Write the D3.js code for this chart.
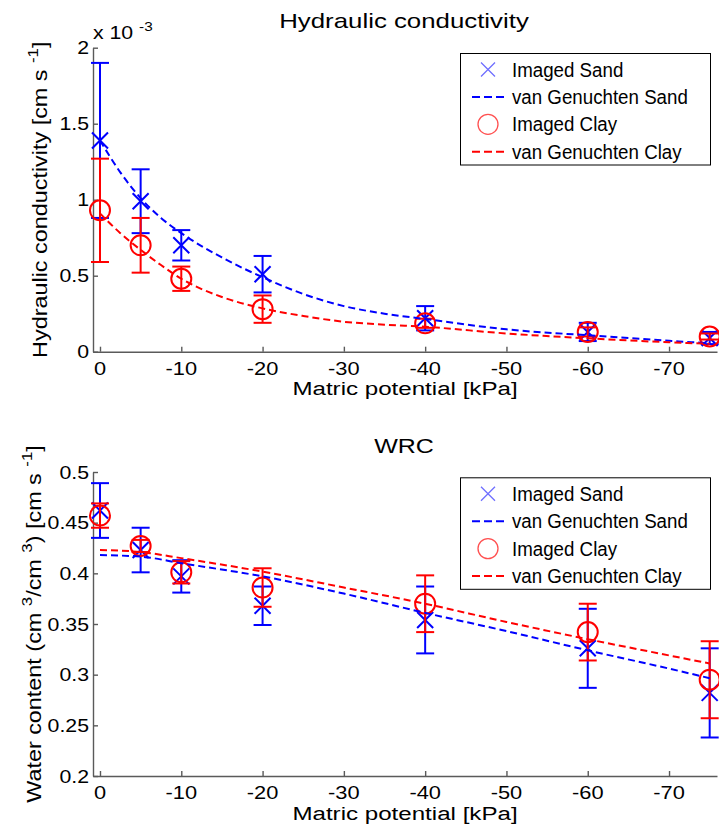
<!DOCTYPE html>
<html>
<head>
<meta charset="utf-8">
<script src="https://cdn.jsdelivr.net/npm/d3@7"></script>
<style>
  body { margin: 0; background: #fff; }
  svg text { font-family: "Liberation Sans", Arial, sans-serif; fill: #000; }
</style>
</head>
<body>
<div id="viz_container"></div>
<script>
// matric potential of the measured points (kPa)
const potentials = [0, -5, -10, -20, -40, -60, -75];
const xTicks = [0, -10, -20, -30, -40, -50, -60, -70];

// hydraulic conductivity, in units of 1e-3 cm/s
const hcSand = [1.39, 0.99, 0.70, 0.51, 0.22, 0.13, 0.09];
const hcSandErr = [0.51, 0.21, 0.10, 0.12, 0.08, 0.06, 0.04];
const hcClay = [0.93, 0.70, 0.48, 0.28, 0.187, 0.13, 0.10];
const hcClayErr = [0.34, 0.18, 0.08, 0.09, 0.03, 0.03, 0.02];
const hcFitX = [0, -2.5, -5, -7.5, -10, -15, -20, -25, -30, -35, -40, -50, -60, -70, -75];
const hcSandFit = [1.39, 1.18, 1.01, 0.88, 0.78, 0.62, 0.49, 0.38, 0.30, 0.25, 0.215, 0.147, 0.108, 0.072, 0.055];
const hcClayFit = [0.91, 0.78, 0.67, 0.57, 0.48, 0.36, 0.285, 0.235, 0.197, 0.178, 0.164, 0.12, 0.088, 0.062, 0.052];
const hcTicks = [0, 0.5, 1, 1.5, 2];

// water retention curve
const wrcSand = [0.462, 0.423, 0.397, 0.368, 0.354, 0.326, 0.282];
const wrcSandErr = [0.027, 0.022, 0.016, 0.019, 0.033, 0.039, 0.044];
const wrcClay = [0.457, 0.427, 0.401, 0.386, 0.370, 0.342, 0.295];
const wrcClayErr = [0.012, 0.006, 0.011, 0.019, 0.028, 0.028, 0.038];
const wrcFitX = [0, -5, -10, -20, -30, -40, -50, -60, -70, -75];
const wrcSandFit = [0.418, 0.4165, 0.410, 0.397, 0.380, 0.361, 0.343, 0.324, 0.306, 0.2965];
const wrcClayFit = [0.423, 0.421, 0.415, 0.4017, 0.386, 0.370, 0.352, 0.335, 0.319, 0.311];
const wrcTicks = [0.2, 0.25, 0.3, 0.35, 0.4, 0.45, 0.5];

const legendNames = ["Imaged Sand", "van Genuchten Sand", "Imaged Clay", "van Genuchten Clay"];

const BLUE = "#0000ff", RED = "#ff0000", AXIS = "#5a5a5a";

const svg = d3.select("#viz_container")
  .append("svg")
    .attr("width", 719)
    .attr("height", 833);

// text helper: parts = [[string, isSup], ...]
function addText(x, y, parts, o) {
  const fs = o.size || 19;
  const t = svg.append("text")
    .attr("transform", `translate(${x},${y}) rotate(${o.rot || 0}) scale(${o.sx || 1},1)`)
    .attr("text-anchor", o.anchor || "middle")
    .style("font-size", fs + "px");
  let up = 0;
  parts.forEach(([s, sup]) => {
    const shift = sup ? -fs * 0.45 : 0;
    t.append("tspan")
      .attr("dy", shift - up)
      .style("font-size", (sup ? fs * 0.72 : fs) + "px")
      .text(s);
    up = shift;
  });
  return t;
}

function panel(cfg) {
  const x = d3.scaleLinear().domain([0.86, -75.9]).range([93, 717]);
  const y = d3.scaleLinear().domain(cfg.yDomain).range(cfg.yRange);

  // axes (MATLAB style, ticks inside, box off)
  const gx = svg.append("g")
    .attr("transform", `translate(0,${cfg.yRange[0]})`)
    .call(d3.axisBottom(x).tickValues(xTicks).tickSizeInner(-5).tickSizeOuter(0).tickFormat(""));
  const gy = svg.append("g")
    .attr("transform", "translate(93,0)")
    .call(d3.axisLeft(y).tickValues(cfg.yTicks).tickSizeInner(-5).tickSizeOuter(0).tickFormat(""));
  [gx, gy].forEach(g => {
    g.selectAll("path, line").attr("stroke", AXIS).attr("stroke-width", 1.4);
  });

  xTicks.forEach(v => addText(x(v), cfg.yRange[0] + 23, [[String(v)]], {size: 18.5, sx: 1.18}));
  cfg.yTicks.forEach(v => addText(89, y(v) + 6.5, [[cfg.fmt(v)]], {size: 18.5, sx: 1.15, anchor: "end"}));

  const plot = svg.append("g");

  function errorSeries(vals, errs, color, marker) {
    const g = plot.append("g").attr("stroke", color).attr("stroke-width", 2).attr("fill", "none");
    potentials.forEach((p, i) => {
      const px = x(p), lo = y(vals[i] - errs[i]), hi = y(vals[i] + errs[i]);
      g.append("line").attr("x1", px).attr("x2", px).attr("y1", lo).attr("y2", hi);
      g.append("line").attr("x1", px - 9).attr("x2", px + 9).attr("y1", lo).attr("y2", lo);
      g.append("line").attr("x1", px - 9).attr("x2", px + 9).attr("y1", hi).attr("y2", hi);
      const py = y(vals[i]);
      if (marker === "x") {
        g.append("path").attr("d", `M${px - 8},${py - 8}L${px + 8},${py + 8}M${px - 8},${py + 8}L${px + 8},${py - 8}`);
      } else {
        g.append("circle").attr("cx", px).attr("cy", py).attr("r", 10);
      }
    });
  }
  errorSeries(cfg.sand, cfg.sandErr, BLUE, "x");
  errorSeries(cfg.clay, cfg.clayErr, RED, "o");

  const line = d3.line()
    .x(d => x(d[0]))
    .y(d => y(d[1]))
    .curve(d3.curveMonotoneX);
  [[cfg.sandFit, BLUE], [cfg.clayFit, RED]].forEach(([vals, c]) => {
    plot.append("path")
      .datum(cfg.fitX.map((v, i) => [v, vals[i]]))
      .attr("d", line)
      .attr("fill", "none")
      .attr("stroke", c)
      .attr("stroke-width", 2)
      .attr("stroke-dasharray", "7,4");
  });

  // title and labels
  addText(404, cfg.titleY, [[cfg.title]], {size: 20.5, sx: cfg.titleSx});
  addText(405, cfg.yRange[0] + 43.5, [["Matric potential [kPa]"]], {size: 19, sx: 1.27});
  addText(cfg.ylabX, (cfg.yRange[0] + cfg.yRange[1]) / 2, cfg.ylab, {size: 19.5, sx: 1.2, rot: -90});

  // legend
  const lx = 460.5, ly = cfg.legendY;
  svg.append("rect")
    .attr("x", lx).attr("y", ly).attr("width", 250).attr("height", 111.5)
    .attr("fill", "#fff").attr("stroke", "#000").attr("stroke-width", 1);
  legendNames.forEach((name, i) => {
    const cy = ly + 16 + i * 27.4;
    const c = i < 2 ? BLUE : RED;
    if (i === 0) {
      svg.append("path")
        .attr("d", `M${488 - 7},${cy - 7}L${488 + 7},${cy + 7}M${488 - 7},${cy + 7}L${488 + 7},${cy - 7}`)
        .attr("stroke", "#6f6fff").attr("stroke-width", 1.3);
    } else if (i === 2) {
      svg.append("circle").attr("cx", 488).attr("cy", cy).attr("r", 10)
        .attr("fill", "none").attr("stroke", "#ff5050").attr("stroke-width", 1.3);
    } else {
      svg.append("line").attr("x1", 472).attr("x2", 508).attr("y1", cy).attr("y2", cy)
        .attr("stroke", c).attr("stroke-width", 2).attr("stroke-dasharray", "8,4");
    }
    addText(512, cy + 7, [[name]], {size: 19.5, sx: 0.96, anchor: "start"});
  });
}

panel({
  yDomain: [0, 2], yRange: [351.7, 47.7], yTicks: hcTicks,
  fmt: d => String(d),
  sand: hcSand, sandErr: hcSandErr, clay: hcClay, clayErr: hcClayErr,
  fitX: hcFitX, sandFit: hcSandFit, clayFit: hcClayFit,
  title: "Hydraulic conductivity", titleY: 28, titleSx: 1.26,
  ylabX: 47, ylab: [["Hydraulic conductivity [cm s "], ["-1", true], ["]"]],
  legendY: 53.5
});

panel({
  yDomain: [0.2, 0.5], yRange: [776, 472], yTicks: wrcTicks,
  fmt: d => String(d),
  sand: wrcSand, sandErr: wrcSandErr, clay: wrcClay, clayErr: wrcClayErr,
  fitX: wrcFitX, sandFit: wrcSandFit, clayFit: wrcClayFit,
  title: "WRC", titleY: 453, titleSx: 1.22,
  ylabX: 41, ylab: [["Water content (cm "], ["3", true], ["/cm "], ["3", true], [") [cm s "], ["-1", true], ["]"]],
  legendY: 477.8
});

// exponent of the top y axis
addText(93, 39, [["x 10 "], ["-3", true]], {size: 18.5, sx: 1.15, anchor: "start"});
</script>
</body>
</html>
